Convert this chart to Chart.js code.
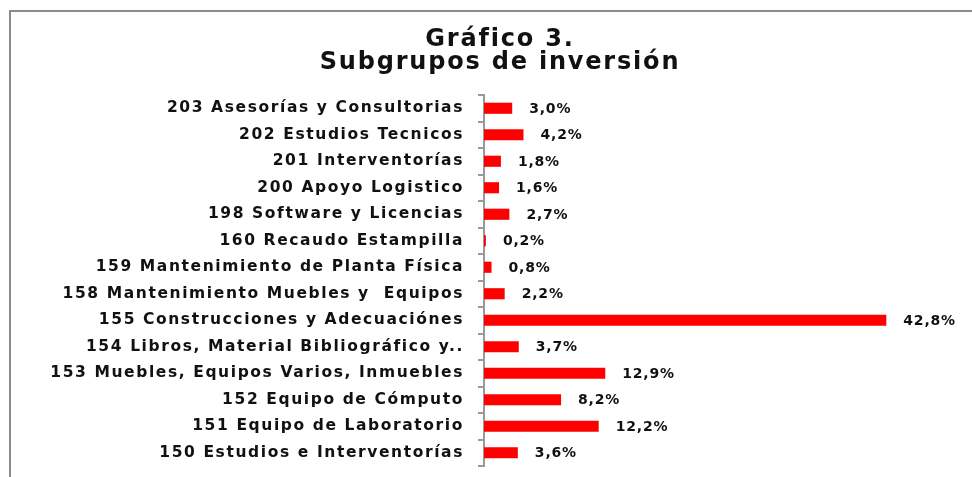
<!DOCTYPE html>
<html>
<head>
<meta charset="utf-8">
<script src="https://cdn.jsdelivr.net/npm/chart.js@4/dist/chart.umd.min.js"></script>
<style>
  html, body { margin: 0; padding: 0; background: #fff; overflow: hidden; }
  #frame {
    position: absolute; left: 9px; top: 10px;
    width: 1000px; height: 500px;
    border-top: 2px solid #8c8c8c; border-left: 2px solid #8c8c8c;
  }
  #frame canvas { position: absolute; left: 0; top: 0; }
</style>
</head>
<body>
<div id="frame"><canvas id="myChart" width="976" height="465"></canvas></div>
<script>
// categorias (de arriba hacia abajo)
const categorias = [
  '203 Asesorías y Consultorias',
  '202 Estudios Tecnicos',
  '201 Interventorías',
  '200 Apoyo Logistico',
  '198 Software y Licencias',
  '160 Recaudo Estampilla',
  '159 Mantenimiento de Planta Física',
  '158 Mantenimiento Muebles y  Equipos',
  '155 Construcciones y Adecuaciónes',
  '154 Libros, Material Bibliográfico y..',
  '153 Muebles, Equipos Varios, Inmuebles',
  '152 Equipo de Cómputo',
  '151 Equipo de Laboratorio',
  '150 Estudios e Interventorías'
];

// porcentaje de inversion
const porcentajes = [3.0, 4.2, 1.8, 1.6, 2.7, 0.2, 0.8, 2.2, 42.8, 3.7, 12.9, 8.2, 12.2, 3.6];

const tituloLineas = ['Gráfico 3.', 'Subgrupos de inversión'];

const fuente = "'DejaVu Sans', sans-serif";

function formatoPct(v) {
  return v.toFixed(1).replace('.', ',') + '%';
}

// espaciado de letras para imitar la fuente ancha del original
const espaciado = {
  id: 'espaciado',
  beforeDraw(chart) {
    chart.ctx.letterSpacing = '1.6px';
  }
};

// titulo en dos lineas
const titulo = {
  id: 'titulo',
  afterDraw(chart) {
    const ctx = chart.ctx;
    ctx.save();
    ctx.letterSpacing = '1.8px';
    ctx.font = 'bold 24px ' + fuente;
    ctx.fillStyle = '#111';
    ctx.textAlign = 'center';
    ctx.textBaseline = 'alphabetic';
    const cx = chart.width / 2 + 1;
    ctx.fillText(tituloLineas[0], cx, 34);
    ctx.fillText(tituloLineas[1], cx, 57);
    ctx.restore();
  }
};

// etiquetas de valor a la derecha de cada barra
const etiquetasValor = {
  id: 'etiquetasValor',
  afterDatasetsDraw(chart) {
    const ctx = chart.ctx;
    const meta = chart.getDatasetMeta(0);
    ctx.save();
    ctx.letterSpacing = '0.8px';
    ctx.font = 'bold 14px ' + fuente;
    ctx.fillStyle = '#111';
    ctx.textAlign = 'left';
    ctx.textBaseline = 'middle';
    meta.data.forEach(function (bar, i) {
      ctx.fillText(formatoPct(porcentajes[i]), bar.x + 17, bar.y + 1);
    });
    ctx.restore();
  }
};

const ctx = document.getElementById('myChart').getContext('2d');

new Chart(ctx, {
  type: 'bar',
  data: {
    labels: categorias,
    datasets: [{
      data: porcentajes,
      backgroundColor: '#ff0000',
      borderWidth: 0,
      barPercentage: 0.42,
      categoryPercentage: 1.0
    }]
  },
  options: {
    indexAxis: 'y',
    responsive: false,
    animation: false,
    layout: { padding: { left: 0, right: 33, top: 83, bottom: 11 } },
    plugins: {
      legend: { display: false },
      tooltip: { enabled: false },
      title: { display: false }
    },
    scales: {
      x: {
        display: false,
        min: 0,
        max: 50
      },
      y: {
        afterFit: function (axis) {
          axis.width = 473;
          axis.paddingTop = 0;
          axis.paddingBottom = 0;
        },
        border: { display: true, color: '#9a9a9a', width: 2 },
        grid: {
          display: true,
          drawOnChartArea: false,
          offset: true,
          tickLength: 6,
          color: '#9a9a9a',
          lineWidth: 2
        },
        ticks: {
          color: '#111',
          padding: 14,
          font: { family: fuente, size: 15.5, weight: 'bold' }
        }
      }
    }
  },
  plugins: [espaciado, titulo, etiquetasValor]
});
</script>
</body>
</html>
